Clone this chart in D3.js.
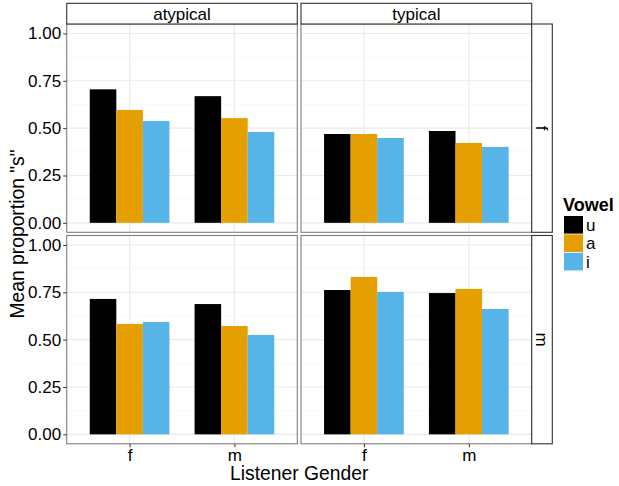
<!DOCTYPE html>
<html><head><meta charset="utf-8">
<script src="https://cdn.jsdelivr.net/npm/d3@7"></script>
<style>
body{margin:0;background:#fff;}
svg{font-family:"Liberation Sans",Arial,Helvetica,sans-serif;}
</style></head>
<body><svg id="c" width="619" height="486"></svg>
<script>
// ---- data ----
const stimTypes = ["atypical", "typical"];      // facet columns
const speakerGenders = ["f", "m"];              // facet rows
const listenerGenders = ["f", "m"];             // x categories
const vowels = ["u", "a", "i"];                 // fill groups
const vowelColors = ["#000000", "#E69F00", "#56B4E9"];
const yTicks = [0, 0.25, 0.5, 0.75, 1.0];
const yTickLabels = ["0.00", "0.25", "0.50", "0.75", "1.00"];
// values: [listener f, listener m] x [u, a, i]
const atypical_f = [[0.705, 0.596, 0.538], [0.669, 0.553, 0.480]];
const typical_f  = [[0.469, 0.469, 0.448], [0.485, 0.422, 0.401]];
const atypical_m = [[0.715, 0.583, 0.593], [0.688, 0.572, 0.525]];
const typical_m  = [[0.762, 0.831, 0.752], [0.746, 0.768, 0.662]];
const panelData = {
  "atypical|f": atypical_f, "typical|f": typical_f,
  "atypical|m": atypical_m, "typical|m": typical_m
};

// ---- layout ----
const svg = d3.select("#c");
const colX = [[66.7, 297.3], [301, 531.7]];
const rowY = [[24, 232.3], [235.5, 443.8]];
const stripTop = 3.3, stripRight = 552.3;
const barWidth = 0.76;

const fillCol = d3.scaleOrdinal().domain(vowels).range(vowelColors);

rowY.forEach((ry, ri) => {
  colX.forEach((cx, ci) => {
    const [x0, x1] = cx, [y0, y1] = ry;
    const y = d3.scaleLinear().domain([-0.05, 1.05]).range([y1, y0]);
    const unit = (x1 - x0) / 2.2;
    const x = d3.scalePoint().domain(listenerGenders).range([x0 + 0.6 * unit, x0 + 1.6 * unit]);
    const inner = d3.scaleBand().domain(vowels).range([-barWidth / 2 * unit, barWidth / 2 * unit]).padding(0);
    const g = svg.append("g");
    g.append("rect").attr("x", x0).attr("y", y0).attr("width", x1 - x0).attr("height", y1 - y0).attr("fill", "#fff");
    // minor grid
    const minor = [0.125, 0.375, 0.625, 0.875];
    g.selectAll(".mn").data(minor).join("line")
      .attr("x1", x0).attr("x2", x1).attr("y1", d => y(d)).attr("y2", d => y(d))
      .attr("stroke", "#F5F5F5").attr("stroke-width", 0.6);
    g.selectAll(".mj").data(yTicks).join("line")
      .attr("x1", x0).attr("x2", x1).attr("y1", d => y(d)).attr("y2", d => y(d))
      .attr("stroke", "#EBEBEB").attr("stroke-width", 1.1);
    g.selectAll(".vx").data(listenerGenders).join("line")
      .attr("x1", d => x(d)).attr("x2", d => x(d)).attr("y1", y0).attr("y2", y1)
      .attr("stroke", "#EBEBEB").attr("stroke-width", 1.1);
    // bars
    const vals = panelData[stimTypes[ci] + "|" + speakerGenders[ri]];
    listenerGenders.forEach((lg, li) => {
      g.selectAll(null).data(vals[li]).join("rect")
        .attr("x", (d, vi) => x(lg) + inner(vowels[vi]))
        .attr("width", inner.bandwidth())
        .attr("y", d => y(d))
        .attr("height", d => y(0) - y(d))
        .attr("fill", (d, vi) => fillCol(vowels[vi]));
    });
    // border
    g.append("rect").attr("x", x0).attr("y", y0).attr("width", x1 - x0).attr("height", y1 - y0)
      .attr("fill", "none").attr("stroke", "#7F7F7F").attr("stroke-width", 1.1);
    // y axis on left column
    if (ci === 0) {
      const ax = d3.axisLeft(y).tickValues(yTicks).tickFormat((d, i) => yTickLabels[i]).tickSize(3.5).tickPadding(2);
      const a = svg.append("g").attr("transform", `translate(${x0},0)`).call(ax);
      a.select(".domain").remove();
      a.selectAll(".tick line").attr("stroke", "#333").attr("stroke-width", 1);
      a.selectAll(".tick text").attr("font-size", 17).attr("fill", "#000").attr("font-family", null);
    }
    // x axis on bottom row
    if (ri === 1) {
      const ax = d3.axisBottom(x).tickSize(3.5).tickPadding(1.5);
      const a = svg.append("g").attr("transform", `translate(0,${y1})`).call(ax);
      a.select(".domain").remove();
      a.selectAll(".tick line").attr("stroke", "#333").attr("stroke-width", 1);
      a.selectAll(".tick text").attr("font-size", 17).attr("fill", "#000").attr("font-family", null);
    }
    // top strips
    if (ri === 0) {
      svg.append("rect").attr("x", x0).attr("y", stripTop).attr("width", x1 - x0).attr("height", y0 - stripTop)
        .attr("fill", "#fff").attr("stroke", "#333").attr("stroke-width", 1.1);
      svg.append("text").attr("x", (x0 + x1) / 2).attr("y", 20).attr("text-anchor", "middle")
        .attr("font-size", 17).text(stimTypes[ci]);
    }
    // right strips
    if (ci === 1) {
      svg.append("rect").attr("x", x1).attr("y", y0).attr("width", stripRight - x1).attr("height", y1 - y0)
        .attr("fill", "#fff").attr("stroke", "#333").attr("stroke-width", 1.1);
      const cxs = (x1 + stripRight) / 2, cys = (y0 + y1) / 2;
      svg.append("text").attr("transform", `translate(${cxs},${cys}) rotate(90)`)
        .attr("text-anchor", "middle").attr("dy", "0.35em").attr("font-size", 17).text(speakerGenders[ri]);
    }
  });
});

// axis titles
svg.append("text").attr("x", (66.7 + 531.7) / 2).attr("y", 480).attr("text-anchor", "middle")
  .attr("font-size", 19.3).text("Listener Gender");
svg.append("text").attr("transform", `translate(24,234) rotate(-90)`).attr("text-anchor", "middle")
  .attr("font-size", 19.3).text('Mean proportion "s"');

// legend
const lg = svg.append("g");
lg.append("text").attr("x", 563).attr("y", 211).attr("font-size", 18).attr("font-weight", "bold").text("Vowel");
vowels.forEach((v, i) => {
  lg.append("rect").attr("x", 564).attr("y", 216 + i * 18.4).attr("width", 19).attr("height", 17.6).attr("fill", fillCol(v));
  lg.append("text").attr("x", 586).attr("y", 216 + i * 18.4 + 15).attr("font-size", 17).text(v);
});
</script></body></html>
